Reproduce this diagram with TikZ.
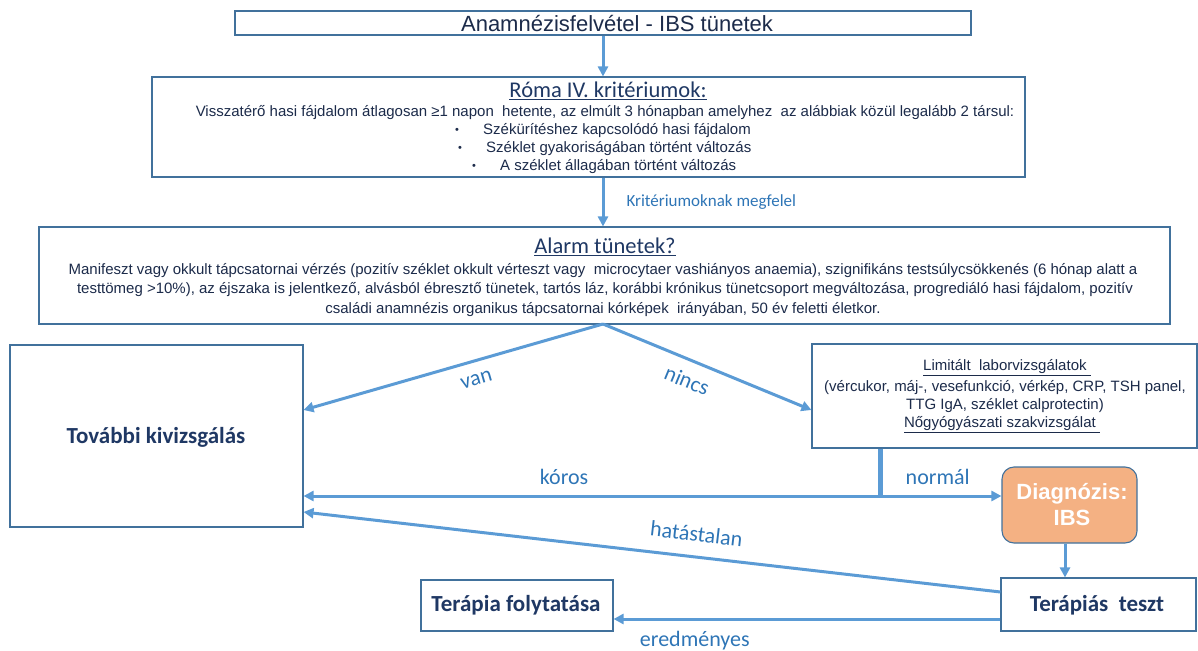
\documentclass[tikz,border=0pt]{standalone}
\usepackage{fontspec}
\setmainfont{Liberation Sans}
\newfontfamily\calfont{Carlito}
\usetikzlibrary{arrows.meta,calc}
\definecolor{boxc}{HTML}{41719C}
\definecolor{arrowc}{HTML}{5B9BD5}
\definecolor{labelc}{HTML}{2E75B6}
\definecolor{navy}{HTML}{1F3864}
\definecolor{bodyc}{HTML}{1C2B4A}
\definecolor{diagfill}{HTML}{F4B183}
\begin{document}
\begin{tikzpicture}[x=1pt,y=-1pt,
  box/.style={draw=boxc, line width=1.1pt, inner sep=0pt, fill=white},
  conn/.style={draw=arrowc, line width=3pt, -{Triangle[length=10pt,width=10pt]}},
  lbl/.style={text=labelc, font=\calfont\fontsize{22}{26}\selectfont, inner sep=0pt},
  body/.style={text=bodyc, font=\fontsize{15}{18}\selectfont, inner sep=0pt},
  bigbold/.style={text=navy, font=\calfont\bfseries\fontsize{23}{27}\selectfont},
  ttl/.style={text=navy, font=\calfont\fontsize{22.5}{26}\selectfont, inner sep=0pt}
]
\useasboundingbox (0,0) rectangle (1198,650);

% boxes
\node[box, minimum width=736pt, minimum height=24pt] (top) at (603,23) {};
\node[box, minimum width=873pt, minimum height=100pt] (roma) at (588.5,127) {};
\node[box, minimum width=1131pt, minimum height=97pt] (alarm) at (604.5,275.5) {};
\node[box, minimum width=293pt, minimum height=182pt] (tovabbi) at (156.5,436) {};
\node[box, minimum width=385pt, minimum height=104pt] (limit) at (1004.5,396) {};
\node[draw=boxc, line width=1.1pt, fill=diagfill, rounded corners=12pt,
      minimum width=135pt, minimum height=76pt, inner sep=0pt] (diag) at (1069.5,505) {};
\node[box, minimum width=195pt, minimum height=53pt] (ter) at (1098.5,604.5) {};
\node[box, minimum width=192pt, minimum height=51pt] (folyt) at (517,605.5) {};

% texts
\node[body, font=\fontsize{22}{26}\selectfont] (topt) at (617,24) {Anamnézisfelvétel - IBS tünetek};
\node[ttl] (romat) at (608,91) {\underline{Róma IV. kritériumok:}};
\node[body] (roma1) at (605,113) {Visszatérő hasi fájdalom átlagosan ≥1 napon\ \ hetente, az elmúlt 3 hónapban amelyhez\ \ az alábbiak közül legalább 2 társul:};
\node[body, font=\fontsize{11}{13}\selectfont] (b1) at (457,131) {•};
\node[body, anchor=west] (roma2) at (483,131) {Székürítéshez kapcsolódó hasi fájdalom};
\node[body, font=\fontsize{11}{13}\selectfont] (b2) at (460,149) {•};
\node[body, anchor=west] (roma3) at (486,149) {Széklet gyakoriságában történt változás};
\node[body, font=\fontsize{11}{13}\selectfont] (b3) at (474,167) {•};
\node[body, anchor=west] (roma4) at (500,167) {A széklet állagában történt változás};

\node[ttl] (alarmt) at (605,247) {\underline{Alarm tünetek?}};
\node[body] (al1) at (603,271) {Manifeszt vagy okkult tápcsatornai vérzés (pozitív széklet okkult vérteszt vagy\ \ microcytaer vashiányos\ anaemia), szignifikáns\ testsúlycsökkenés (6 hónap alatt a};
\node[body] (al2) at (605,290) {testtömeg >10\%), az éjszaka is jelentkező, alvásból ébresztő tünetek,\ tartós láz, korábbi krónikus tünetcsoport megváltozása,\ progrediáló hasi fájdalom, pozitív};
\node[body] (al3) at (603,310) {családi anamnézis organikus tápcsatornai kórképek\ \ irányában, 50 év feletti életkor.};

\node[body] (l1) at (1007,368) {\underline{Limitált\ \ laborvizsgálatok\ }};
\node[body] (l2) at (1005,388) {(vércukor, máj-, vesefunkció,\ vérkép,\ CRP,\ TSH panel,};
\node[body] (l3) at (1005,406) {TTG\ IgA, széklet\ calprotectin)};
\node[body] (l4) at (1002,425) {\underline{Nőgyógyászati szakvizsgálat\ }};

\node[bigbold] (tovt) at (156,437) {További kivizsgálás};
\node[bigbold] (tert) at (1097,605) {Terápiás\ \ teszt};
\node[bigbold] (folt) at (516,605) {Terápia folytatása};
\node[text=white, font=\bfseries\fontsize{22}{26}\selectfont, align=center, inner sep=0pt] (diagt) at (1072,505) {Diagnózis:\\IBS};

% connectors
\draw[conn] (top.south) -- (roma.north -| top.south);
\draw[conn] (roma.south -| top.south) -- (alarm.north -| top.south)
  node[lbl, pos=0.5, right=22pt, font=\calfont\fontsize{17}{20}\selectfont] (crit) {Kritériumoknak megfelel};

\coordinate (apex) at (603,324);
\draw[conn] (apex) -- (tovabbi.east |- 0,410) node[lbl, pos=0.44, below=12pt, sloped] (van) {van};
\draw[conn] (apex) -- (limit.west |- 0,410) node[lbl, pos=0.44, below=11pt, sloped] (nincs) {nincs};

\coordinate (junc) at (880,496);
\draw[draw=arrowc, line width=5pt] (limit.south -| junc) -- (junc);
\draw[conn] (junc) -- (tovabbi.east |- junc) node[lbl, pos=0.548, above=10pt] (koros) {kóros};
\draw[conn] (junc) -- (diag.west |- junc) node[lbl, pos=0.475, above=10pt] (normal) {normál};

\draw[conn] (diag.south -| 1065,0) -- (ter.north -| 1065,0);
\draw[conn] (ter.west |- 0,592) -- (tovabbi.east |- 0,512)
  node[lbl, pos=0.44, above=14pt, sloped] (hat) {hatástalan};
\draw[conn] (ter.west |- 0,619) -- (folyt.east |- 0,619)
  node[lbl, pos=0.79, below=11pt] (ered) {eredményes};
\end{tikzpicture}
\end{document}
